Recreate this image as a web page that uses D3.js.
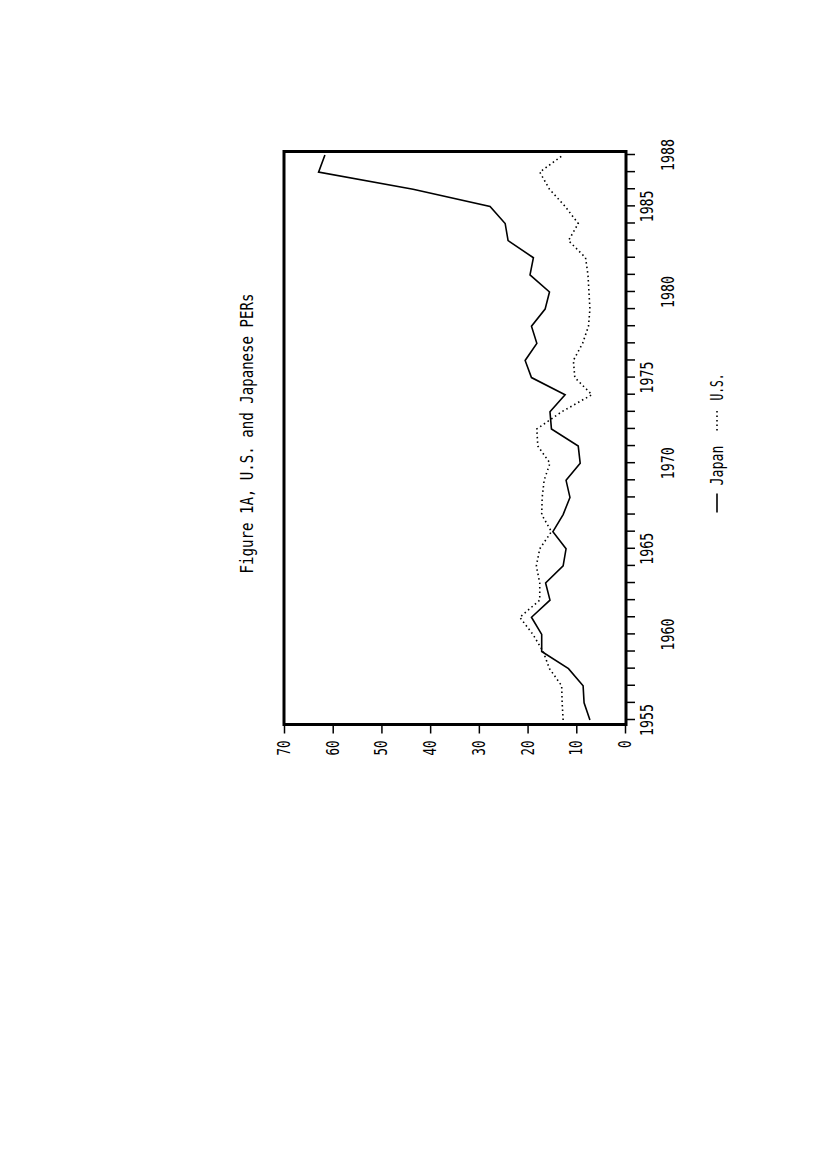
<!DOCTYPE html>
<html><head><meta charset="utf-8">
<script src="https://cdn.jsdelivr.net/npm/d3@7"></script>
<style>body{margin:0;background:#fff}</style>
</head><body>
<svg id="c" width="827" height="1170"></svg>
<script>
const years = [1955,1956,1957,1958,1959,1960,1961,1962,1963,1964,1965,1966,1967,1968,1969,1970,1971,1972,1973,1974,1975,1976,1977,1978,1979,1980,1981,1982,1983,1984,1985,1986,1987,1988];
const japan = [7.2,8.4,8.6,11.6,17.1,17.1,19.2,15.4,16.3,12.7,12.1,14.8,12.7,11.3,12.1,9.2,9.6,15.1,15.4,12.3,19.2,20.5,18.1,19.2,16.4,15.5,19.5,18.8,24.0,24.6,27.7,43.5,62.9,61.6];
const us = [12.7,12.9,13.0,15.5,16.8,18.9,21.6,17.5,17.5,18.2,17.5,15.1,17.1,17.0,16.6,15.4,17.9,18.1,13.0,6.8,10.3,10.6,8.7,7.5,7.2,7.4,7.6,8.1,11.6,9.6,12.3,15.5,17.5,12.7];
const yearLabels = [1955,1960,1965,1970,1975,1980,1985,1988];
const valueTicks = [0,10,20,30,40,50,60,70];
const title = "Figure 1A, U.S. and Japanese PERs";
const seriesNames = ["Japan","U.S."];

const FONT = "DejaVu Sans Mono";
const svg = d3.select("#c");
svg.append("rect").attr("width",827).attr("height",1170).attr("fill","#fff");

const W = 573, H = 342;
// local frame: x = years (screen upward), y = values (screen leftward is higher)
const g = svg.append("g").attr("transform","translate(284,724.5) rotate(-90)");
const x = d3.scaleLinear().domain([1955,1988]).range([4.5,569.5]);
const y = d3.scaleLinear().domain([0,70]).range([341,0]);

// year axis (screen right side)
const xa = g.append("g").attr("transform",`translate(0,${H})`)
  .call(d3.axisBottom(x).tickValues(years).tickSize(9).tickFormat(""));
xa.select(".domain").remove();
xa.selectAll(".tick line").attr("stroke","#000").attr("stroke-width",1.5);
g.append("g").selectAll("text").data(yearLabels).join("text")
  .attr("x",d=>x(d)).attr("y",(d,i)=> i%2===0 ? 369 : 390)
  .attr("text-anchor","middle").attr("font-family",FONT).attr("font-size",18)
  .attr("textLength",32).attr("lengthAdjust","spacingAndGlyphs")
  .text(d=>d);

// value axis (screen bottom)
const ya = g.append("g")
  .call(d3.axisLeft(y).tickValues(valueTicks).tickSize(9).tickFormat(""));
ya.select(".domain").remove();
ya.selectAll(".tick line").attr("stroke","#000").attr("stroke-width",1.5);
g.append("g").selectAll("text").data(valueTicks).join("text")
  .attr("x",-16).attr("y",d=>y(d)+6)
  .attr("text-anchor","end").attr("font-family",FONT).attr("font-size",17)
  .attr("textLength",d=>String(d).length*7.5).attr("lengthAdjust","spacingAndGlyphs")
  .text(d=>d);

// frame
g.append("rect").attr("x",0).attr("y",0).attr("width",W).attr("height",H)
  .attr("fill","none").attr("stroke","#000").attr("stroke-width",3);

// series
const line = d3.line().x((d,i)=>x(years[i])).y(d=>y(d));
g.append("path").datum(japan).attr("d",line).attr("fill","none")
  .attr("stroke","#000").attr("stroke-width",1.6);
g.append("path").datum(us).attr("d",line).attr("fill","none")
  .attr("stroke","#000").attr("stroke-width",1.6).attr("stroke-dasharray","1.5,3");

// title
g.append("text").attr("x",291).attr("y",-31).attr("text-anchor","middle")
  .attr("font-family",FONT).attr("font-size",18)
  .attr("textLength",280).attr("lengthAdjust","spacingAndGlyphs").text(title);

// legend
g.append("line").attr("x1",212).attr("x2",231).attr("y1",433).attr("y2",433)
  .attr("stroke","#000").attr("stroke-width",1.6);
g.append("text").attr("x",239).attr("y",439).attr("font-family",FONT).attr("font-size",17)
  .attr("textLength",40).attr("lengthAdjust","spacingAndGlyphs").text(seriesNames[0]);
g.append("line").attr("x1",294).attr("x2",314).attr("y1",433).attr("y2",433)
  .attr("stroke","#000").attr("stroke-width",1.6).attr("stroke-dasharray","1.5,3");
g.append("text").attr("x",324).attr("y",439).attr("font-family",FONT).attr("font-size",17)
  .attr("textLength",27).attr("lengthAdjust","spacingAndGlyphs").text(seriesNames[1]);
</script>
</body></html>
